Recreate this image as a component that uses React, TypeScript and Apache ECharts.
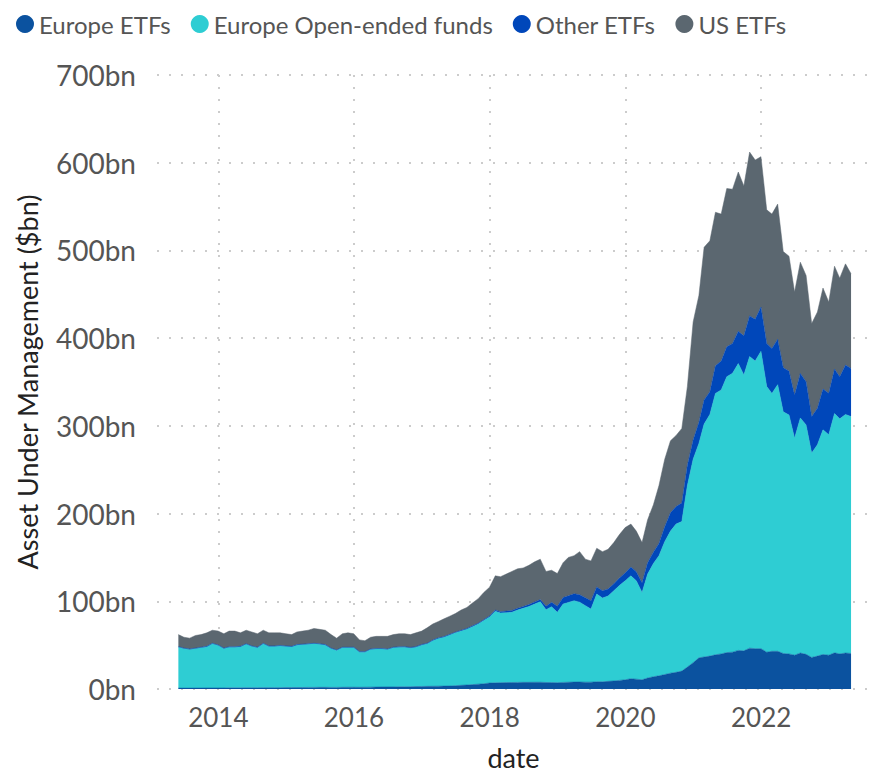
import React, { useEffect, useRef } from "react";
import * as echarts from "echarts";

// Month-end dates: May 2013 .. April 2023 (120 months)
const months: number[] = Array.from({ length: 120 }, (_, k) => Date.UTC(2013, 5 + k, 0));

const seriesNames = ["Europe ETFs", "Europe Open-ended funds", "Other ETFs", "US ETFs"];
const seriesColors = ["#0b529f", "#2ecdd3", "#0047ba", "#5b6770"];

const europeETFs = [
  1.0, 1.0, 1.0, 1.1, 1.1, 1.2, 1.2, 1.2, 1.2, 1.3,
  1.3, 1.3, 1.4, 1.4, 1.4, 1.5, 1.5, 1.5, 1.5, 1.6,
  1.6, 1.7, 1.7, 1.8, 1.8, 1.9, 1.9, 1.8, 1.8, 1.9,
  2.0, 2.0, 1.9, 2.0, 2.1, 2.2, 2.3, 2.4, 2.4, 2.5,
  2.5, 2.6, 2.8, 2.9, 3.0, 3.1, 3.2, 3.3, 3.4, 3.8,
  4.2, 4.6, 5.0, 5.5, 6.0, 6.8, 7.0, 7.2, 7.3, 7.4,
  7.5, 7.6, 7.6, 7.7, 7.7, 7.4, 7.3, 7.2, 7.5, 7.7,
  7.9, 8.0, 7.8, 7.8, 8.3, 8.2, 8.7, 9.2, 9.8, 10.5,
  11.7, 11.2, 10.5, 12.5, 14.0, 15.0, 16.5, 18.0, 19.0, 20.4,
  25.0, 30.0, 35.5, 36.5, 37.5, 39.0, 40.0, 41.5, 42.0, 44.0,
  43.5, 46.5, 46.0, 46.0, 42.0, 43.0, 43.0, 40.5, 40.0, 38.6,
  41.0, 39.5, 36.0, 37.5, 39.4, 38.6, 41.2, 40.0, 41.0, 40.5,
];

const europeOpenEnded = [
  46.7, 45.0, 44.0, 44.9, 45.9, 46.8, 50.3, 48.4, 44.8, 46.2,
  46.2, 46.7, 49.6, 47.1, 45.6, 50.0, 47.0, 47.0, 47.5, 46.9,
  46.4, 48.3, 48.8, 49.2, 49.7, 49.1, 48.1, 44.2, 42.2, 45.1,
  45.0, 45.0, 40.1, 40.0, 42.9, 43.3, 43.2, 42.6, 44.6, 45.0,
  45.2, 44.0, 44.7, 47.1, 48.5, 51.9, 54.3, 55.7, 58.1, 60.2,
  61.8, 63.4, 66.0, 68.5, 72.0, 75.2, 81.5, 79.5, 79.7, 80.1,
  82.5, 84.4, 86.4, 89.1, 91.7, 83.0, 86.5, 80.2, 89.3, 91.0,
  92.7, 91.0, 87.2, 83.4, 99.9, 95.5, 97.3, 102.8, 108.2, 112.8,
  117.3, 112.1, 99.6, 118.5, 129.0, 137.0, 151.5, 162.0, 169.0, 170.6,
  207.0, 232.0, 244.5, 265.5, 275.5, 298.0, 301.0, 314.5, 318.0, 327.0,
  314.5, 332.5, 328.0, 339.0, 303.0, 294.0, 304.0, 275.5, 272.5, 247.4,
  268.0, 261.5, 233.0, 241.0, 256.1, 251.4, 272.8, 268.0, 272.0, 270.1,
];

const otherETFs = [
  0.6, 0.6, 0.6, 0.6, 0.6, 0.6, 0.6, 0.6, 0.6, 0.6,
  0.6, 0.6, 0.6, 0.6, 0.6, 0.6, 0.6, 0.6, 0.6, 0.6,
  0.6, 0.6, 0.6, 0.6, 0.6, 0.6, 0.6, 0.6, 0.6, 0.6,
  0.6, 0.6, 0.6, 0.6, 0.6, 0.6, 0.6, 0.6, 0.6, 0.6,
  0.6, 0.8, 0.8, 0.8, 0.8, 0.8, 0.8, 0.8, 0.8, 0.8,
  0.9, 1.0, 1.0, 1.0, 1.0, 1.2, 1.5, 1.5, 1.8, 2.0,
  2.0, 2.0, 2.2, 2.5, 2.5, 4.0, 5.0, 7.0, 7.5, 7.5,
  8.0, 8.5, 9.0, 9.5, 8.0, 8.3, 8.0, 8.0, 8.5, 9.0,
  10.0, 10.5, 11.0, 13.0, 13.0, 14.0, 17.0, 21.0, 20.0, 21.0,
  23.0, 22.0, 24.0, 27.5, 26.0, 31.5, 32.8, 34.1, 33.9, 36.8,
  44.6, 46.3, 47.5, 50.5, 49.0, 51.2, 51.8, 50.3, 49.9, 49.2,
  50.8, 49.4, 41.7, 41.6, 46.5, 47.1, 50.7, 48.0, 56.3, 54.9,
];

const usETFs = [
  13.7, 12.4, 12.4, 14.4, 14.4, 15.4, 14.9, 15.8, 16.4, 17.9,
  17.9, 15.4, 15.4, 15.9, 15.4, 14.9, 14.9, 14.9, 14.4, 13.9,
  13.4, 14.4, 14.9, 15.4, 16.9, 16.4, 16.4, 15.4, 13.4, 15.4,
  16.4, 15.4, 13.4, 12.4, 13.4, 13.9, 13.9, 14.4, 14.4, 14.9,
  14.7, 14.6, 15.7, 15.2, 17.7, 18.2, 18.7, 20.2, 20.7, 21.2,
  23.1, 24.0, 26.0, 28.0, 31.0, 32.8, 39.0, 39.8, 42.2, 44.5,
  45.0, 44.0, 44.8, 45.7, 46.1, 39.6, 36.6, 37.2, 39.7, 43.8,
  43.4, 49.1, 44.0, 45.3, 44.2, 44.6, 45.2, 47.0, 49.5, 51.7,
  49.0, 46.2, 45.9, 49.0, 54.0, 66.0, 77.0, 82.0, 81.0, 85.0,
  90.0, 134.5, 144.7, 174.1, 172.0, 175.0, 167.6, 180.5, 175.9, 181.6,
  170.9, 186.8, 181.5, 171.4, 152.3, 153.2, 154.0, 132.4, 131.0, 117.3,
  126.8, 121.0, 105.9, 109.7, 115.1, 104.1, 117.3, 112.4, 115.4, 107.9,
];

const yearTicks = [2014, 2016, 2018, 2020, 2022];
const yTickSuffix = "bn";

const FONT = 'Lato, "Noto Sans", sans-serif';

export default function App() {
  const ref = useRef<HTMLDivElement>(null);

  useEffect(() => {
    if (!ref.current) return;
    const chart = echarts.init(ref.current, undefined, { renderer: "svg" });
    const values = [europeETFs, europeOpenEnded, otherETFs, usETFs];
    const tickTimes = yearTicks.map((y) => Date.UTC(y, 0, 1));
    const xMin = Date.UTC(2013, 1, 5);
    const xMax = Date.UTC(2023, 7, 10);
    const gridLine = { color: "#cccccc", width: 2, type: [2, 10] as number[] };

    chart.setOption({
      animation: false,
      color: seriesColors,
      textStyle: { fontFamily: FONT },
      legend: {
        data: seriesNames,
        left: 16,
        top: 12,
        icon: "circle",
        itemWidth: 18,
        itemHeight: 18,
        itemGap: 20,
        padding: 0,
        textStyle: { fontSize: 24, color: "#555555", fontFamily: FONT },
      },
      grid: { left: 157, right: 12, top: 75, bottom: 84, containLabel: false },
      xAxis: [
        {
          // time axis carrying the series (hidden)
          type: "time",
          min: xMin,
          max: xMax,
          show: false,
        },
        {
          // visible axis: ticks, labels and grid at even years
          type: "value",
          min: xMin,
          max: xMax,
          position: "bottom",
          name: "date",
          nameLocation: "middle",
          nameGap: 55,
          nameTextStyle: { fontSize: 27, color: "#222222", fontFamily: FONT },
          axisLine: { show: false },
          axisTick: { show: false, customValues: tickTimes },
          axisLabel: {
            customValues: tickTimes,
            formatter: (v: number) => String(new Date(v).getUTCFullYear()),
            fontSize: 26,
            color: "#555555",
            margin: 15,
            fontFamily: FONT,
          },
          splitLine: { show: true, lineStyle: gridLine },
        },
      ],
      yAxis: {
        type: "value",
        min: 0,
        max: 700,
        interval: 100,
        name: "Asset Under Management ($bn)",
        nameLocation: "middle",
        nameGap: 116,
        nameTextStyle: { fontSize: 27, color: "#222222", fontFamily: FONT },
        axisLine: { show: false },
        axisTick: { show: false },
        axisLabel: {
          formatter: (v: number) => `${v}${yTickSuffix}`,
          fontSize: 28,
          color: "#555555",
          margin: 21,
          fontFamily: FONT,
        },
        splitLine: { show: true, lineStyle: gridLine },
      },
      series: seriesNames.map((name, si) => ({
        name,
        type: "line",
        stack: "total",
        xAxisIndex: 0,
        showSymbol: false,
        symbol: "none",
        lineStyle: { width: 0.5, color: seriesColors[si] },
        areaStyle: { color: seriesColors[si], opacity: 1 },
        data: months.map((t, i) => [t, values[si][i]]),
      })),
    });

    return () => chart.dispose();
  }, []);

  return (
    <div
      ref={ref}
      style={{ position: "fixed", left: 0, top: 0, width: 882, height: 776, background: "#ffffff" }}
    />
  );
}
